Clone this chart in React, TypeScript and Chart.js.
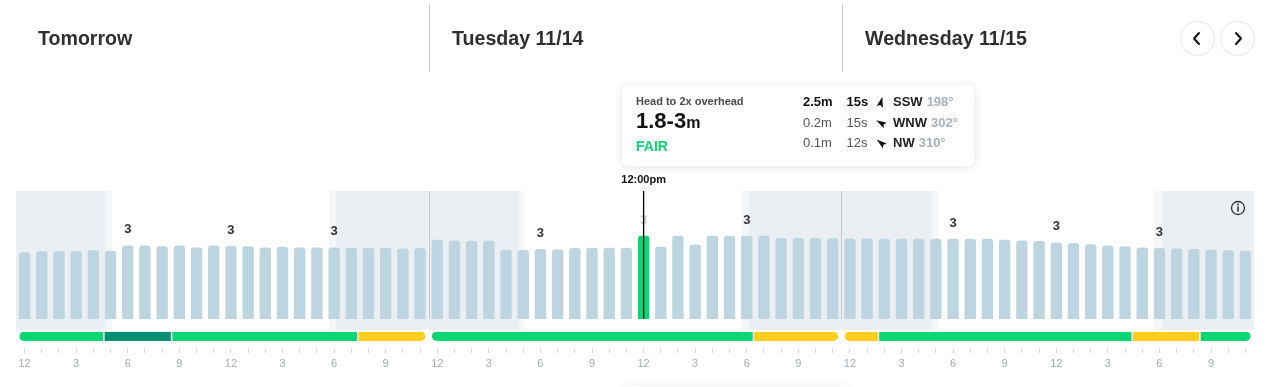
import React, { useEffect, useRef } from 'react';
import { Chart, registerables } from 'chart.js';

Chart.register(...registerables);

// ---------- data ----------
const DAY_TITLES = ['Tomorrow', 'Tuesday 11/14', 'Wednesday 11/15'];
const HOUR_TICKS = ['12', '', '', '3', '', '', '6', '', '', '9', '', '', '12', '', '', '3', '', '', '6', '', '', '9', '', ''];

// surf height (m), hourly
const WAVE_DAY1 = [2.07, 2.1, 2.1, 2.1, 2.13, 2.12, 2.28, 2.28, 2.26, 2.28, 2.22, 2.28, 2.27, 2.26, 2.22, 2.24, 2.22, 2.22, 2.22, 2.21, 2.21, 2.21, 2.19, 2.2];
const WAVE_DAY2 = [2.46, 2.44, 2.43, 2.43, 2.15, 2.14, 2.17, 2.16, 2.2, 2.21, 2.21, 2.21, 2.59, 2.24, 2.59, 2.31, 2.59, 2.59, 2.59, 2.59, 2.52, 2.52, 2.52, 2.51];
const WAVE_DAY3 = [2.5, 2.5, 2.49, 2.49, 2.49, 2.49, 2.49, 2.49, 2.49, 2.46, 2.44, 2.42, 2.38, 2.35, 2.32, 2.28, 2.26, 2.22, 2.2, 2.19, 2.17, 2.15, 2.13, 2.12];

const PEAK_LABEL_INDEX = [6, 12, 18, 30, 36, 42, 54, 60, 66];
const PEAK_LABEL_TEXT = ['3', '3', '3', '3', '3', '3', '3', '3', '3'];

const SELECTED_INDEX = 36;
const SELECTED_TIME = '12:00pm';

// twilight / daylight hours per day
const DAWN = [5.25, 5.25, 5.27];
const SUNRISE = [5.6, 5.6, 5.62];
const SUNSET = [18.2, 18.2, 18.2];
const DUSK = [18.6, 18.6, 18.63];

// condition segments
const COND_DAY = [0, 0, 0, 0, 1, 1, 2, 2, 2, 2];
const COND_FROM = [0, 5, 9, 20, 0, 19, 0, 2, 17, 21];
const COND_TO = [5, 9, 20, 24, 19, 24, 2, 17, 21, 24];
const COND_RATING = ['FAIR', 'FAIR_TO_GOOD', 'FAIR', 'POOR_TO_FAIR', 'FAIR', 'POOR_TO_FAIR', 'POOR_TO_FAIR', 'FAIR', 'POOR_TO_FAIR', 'FAIR'];

// tooltip
const TIP_DESC = 'Head to 2x overhead';
const TIP_RANGE = '1.8-3';
const TIP_UNIT = 'm';
const TIP_RATING = 'FAIR';
const SWELL_HEIGHT = ['2.5m', '0.2m', '0.1m'];
const SWELL_PERIOD = ['15s', '15s', '12s'];
const SWELL_DIR = ['SSW', 'WNW', 'NW'];
const SWELL_DEG = ['198°', '302°', '310°'];
const SWELL_ARROW = [14, 300, 308];

// ---------- styles ----------
const FONT = '"Liberation Sans", Arial, Helvetica, sans-serif';
const COND_COLORS: Record<string, string> = {
  FAIR: '#0bd674',
  FAIR_TO_GOOD: '#008f72',
  POOR_TO_FAIR: '#ffcd1e',
};
const BAR_COLOR = '#bcd5e0';
const SEL_COLOR = '#0bd674';
const SHADE_DARK = '#ebeef2';
const SHADE_LIGHT = '#f4f6f8';

const surfPlugin = {
  id: 'surfPlugin',
  beforeDatasetsDraw(chart: any) {
    const { ctx, chartArea, scales } = chart;
    const x = scales.x;
    const y = scales.y;
    const base = y.getPixelForValue(0);
    const px = (d: number, h: number) => x.getPixelForValue(d * 24 + h - 0.5);
    const shadeTop = chartArea.top;
    const shadeBottom = base + 11.3;
    ctx.save();
    for (let d = 0; d < 3; d++) {
      const s = px(d, 0);
      const e = px(d, 24);
      const rects: [number, number, string][] = [
        [s, px(d, DAWN[d]), SHADE_DARK],
        [px(d, DAWN[d]), px(d, SUNRISE[d]), SHADE_LIGHT],
        [px(d, SUNSET[d]), px(d, DUSK[d]), SHADE_LIGHT],
        [px(d, DUSK[d]), e, SHADE_DARK],
      ];
      rects.forEach(([a, b, c]) => {
        ctx.fillStyle = c;
        ctx.fillRect(a, shadeTop, b - a, shadeBottom - shadeTop);
      });
    }
    // day separators
    ctx.strokeStyle = '#c6c6c6';
    ctx.lineWidth = 1;
    for (let d = 1; d < 3; d++) {
      const xx = Math.round(px(d, 0)) + 0.5;
      ctx.beginPath();
      ctx.moveTo(xx, shadeTop);
      ctx.lineTo(xx, base);
      ctx.stroke();
    }
    // conditions bar
    const meta = chart.getDatasetMeta(0);
    const barW = meta.data[0].width;
    const cTop = base + 13;
    const cH = 9.3;
    for (let d = 0; d < 3; d++) {
      const x0 = x.getPixelForValue(d * 24) - barW / 2;
      const x1 = x.getPixelForValue(d * 24 + 23) + barW / 2;
      const hx = (h: number) => x0 + (h / 24) * (x1 - x0);
      ctx.save();
      ctx.beginPath();
      ctx.roundRect(x0, cTop, x1 - x0, cH, cH / 2);
      ctx.clip();
      for (let i = 0; i < COND_DAY.length; i++) {
        if (COND_DAY[i] !== d) continue;
        ctx.fillStyle = COND_COLORS[COND_RATING[i]];
        ctx.fillRect(hx(COND_FROM[i]), cTop, hx(COND_TO[i]) - hx(COND_FROM[i]), cH);
      }
      ctx.fillStyle = '#ffffff';
      for (let i = 0; i < COND_DAY.length; i++) {
        if (COND_DAY[i] !== d || COND_FROM[i] === 0) continue;
        ctx.fillRect(hx(COND_FROM[i]) - 0.75, cTop, 1.5, cH);
      }
      ctx.restore();
    }
    ctx.restore();
  },
  afterDatasetsDraw(chart: any) {
    const { ctx, chartArea, scales } = chart;
    const base = scales.y.getPixelForValue(0);
    const meta = chart.getDatasetMeta(0);
    ctx.save();
    ctx.textAlign = 'center';
    ctx.textBaseline = 'middle';
    ctx.font = `bold 13px ${FONT}`;
    PEAK_LABEL_INDEX.forEach((idx, k) => {
      const el = meta.data[idx];
      ctx.fillStyle = idx === SELECTED_INDEX ? '#c9c9c9' : '#333333';
      ctx.fillText(PEAK_LABEL_TEXT[k], el.x, el.y - 16);
    });
    // selected line
    const sel = meta.data[SELECTED_INDEX];
    ctx.strokeStyle = '#000000';
    ctx.lineWidth = 1.3;
    ctx.beginPath();
    ctx.moveTo(sel.x, chartArea.top);
    ctx.lineTo(sel.x, base);
    ctx.stroke();
    ctx.fillStyle = '#111111';
    ctx.font = `bold 11px ${FONT}`;
    ctx.fillText(SELECTED_TIME, sel.x, chartArea.top - 11);
    // info icon
    const ix = chartArea.right - 16;
    const iy = chartArea.top + 17;
    ctx.strokeStyle = '#333333';
    ctx.lineWidth = 1.3;
    ctx.beginPath();
    ctx.arc(ix, iy, 6.5, 0, Math.PI * 2);
    ctx.stroke();
    ctx.fillStyle = '#333333';
    ctx.fillRect(ix - 0.8, iy - 1.5, 1.6, 5);
    ctx.beginPath();
    ctx.arc(ix, iy - 3.6, 1, 0, Math.PI * 2);
    ctx.fill();
    ctx.restore();
  },
};

const ALL_WAVES = [...WAVE_DAY1, ...WAVE_DAY2, ...WAVE_DAY3];
const ALL_TICKS = [...HOUR_TICKS, ...HOUR_TICKS, ...HOUR_TICKS];

function Arrow({ angle }: { angle: number }) {
  return (
    <svg width="10" height="12" viewBox="-5 -6 10 12" style={{ display: 'block' }}>
      <polygon points="0,-5.5 3.2,5 0,3 -3.2,5" fill="#111" transform={`rotate(${angle})`} />
    </svg>
  );
}

function Chevron({ dir }: { dir: 'l' | 'r' }) {
  const pts = dir === 'l' ? '9,3 4,8.5 9,14' : '5,3 10,8.5 5,14';
  return (
    <svg width="14" height="17" viewBox="0 0 14 17">
      <polyline points={pts} fill="none" stroke="#111" strokeWidth="2" strokeLinecap="round" strokeLinejoin="round" />
    </svg>
  );
}

export default function App() {
  const ref = useRef<HTMLCanvasElement>(null);
  useEffect(() => {
    if (!ref.current) return;
    const chart = new Chart(ref.current, {
      type: 'bar',
      data: {
        labels: ALL_TICKS,
        datasets: [
          {
            data: ALL_WAVES,
            backgroundColor: ALL_WAVES.map((_, i) => (i === SELECTED_INDEX ? SEL_COLOR : BAR_COLOR)),
            borderRadius: { topLeft: 3, topRight: 3, bottomLeft: 0, bottomRight: 0 },
            borderSkipped: 'start',
            barThickness: 10.7,
          },
        ],
      },
      options: {
        responsive: false,
        animation: false,
        events: [],
        layout: { padding: { left: 16, right: 23, top: 191, bottom: 12.8 } },
        plugins: { legend: { display: false }, tooltip: { enabled: false } },
        scales: {
          x: {
            offset: true,
            border: { display: false },
            grid: { drawOnChartArea: false, drawTicks: true, tickLength: 4, color: '#d3d7dd', offset: false },
            ticks: {
              autoSkip: false,
              maxRotation: 0,
              minRotation: 0,
              padding: 4,
              color: '#a2abb8',
              font: { size: 11, family: FONT },
              callback: (_v: any, i: number) => ALL_TICKS[i],
            },
          },
          y: { display: false, min: -0.95, max: 4 },
        },
      },
      plugins: [surfPlugin],
    } as any);
    return () => chart.destroy();
  }, []);

  const titleLefts = [38, 452, 865];
  const sepLefts = [429, 842];
  const rowCy = [17.3, 38.3, 58.3];

  return (
    <div
      style={{
        position: 'absolute',
        left: 0,
        top: 0,
        width: 1277,
        height: 387,
        overflow: 'hidden',
        background: '#ffffff',
        fontFamily: FONT,
        color: '#333',
      }}
    >
      <canvas ref={ref} width={1277} height={387} style={{ position: 'absolute', left: 0, top: 0, width: 1277, height: 387 }} />

      {/* header */}
      {DAY_TITLES.map((t, i) => (
        <div
          key={t}
          style={{
            position: 'absolute',
            left: titleLefts[i],
            top: 26,
            height: 24,
            lineHeight: '24px',
            fontSize: 19.6,
            fontWeight: 700,
            color: '#2f2f2f',
            whiteSpace: 'nowrap',
          }}
        >
          {t}
        </div>
      ))}
      {sepLefts.map((l) => (
        <div key={l} style={{ position: 'absolute', left: l, top: 4, width: 1, height: 68, background: '#c8c8c8' }} />
      ))}
      {[1179.5, 1220].map((l, i) => (
        <div
          key={l}
          style={{
            position: 'absolute',
            left: l,
            top: 21,
            width: 35,
            height: 35,
            boxSizing: 'border-box',
            border: '1px solid #e3e5ea',
            borderRadius: '50%',
            display: 'flex',
            alignItems: 'center',
            justifyContent: 'center',
          }}
        >
          <Chevron dir={i === 0 ? 'l' : 'r'} />
        </div>
      ))}

      {/* faint card shadow at bottom */}
      <div
        style={{
          position: 'absolute',
          left: 624,
          top: 386,
          width: 226,
          height: 30,
          borderRadius: 6,
          background: '#fff',
          boxShadow: '0 0 8px rgba(0,0,0,0.07)',
        }}
      />

      {/* tooltip */}
      <div
        style={{
          position: 'absolute',
          left: 622,
          top: 85,
          width: 352,
          height: 81,
          background: '#fff',
          borderRadius: 6,
          boxShadow: '0 1px 10px rgba(0,0,0,0.12)',
        }}
      >
        <div style={{ position: 'absolute', left: 14, top: 9, lineHeight: '14px', fontSize: 11, fontWeight: 700, color: '#4a4a4a', whiteSpace: 'nowrap' }}>
          {TIP_DESC}
        </div>
        <div style={{ position: 'absolute', left: 14, top: 23, lineHeight: '26px', whiteSpace: 'nowrap', color: '#111' }}>
          <span style={{ fontSize: 22, fontWeight: 700 }}>{TIP_RANGE}</span>
          <span style={{ fontSize: 16, fontWeight: 700 }}>{TIP_UNIT}</span>
        </div>
        <div style={{ position: 'absolute', left: 14, top: 52, lineHeight: '18px', fontSize: 14, fontWeight: 700, color: '#0bd674' }}>
          {TIP_RATING}
        </div>
        {SWELL_HEIGHT.map((h, r) => {
          const bold = r === 0;
          const top = rowCy[r] - 8;
          return (
            <React.Fragment key={r}>
              <div style={{ position: 'absolute', left: 181, top, lineHeight: '16px', fontSize: 13, fontWeight: bold ? 700 : 400, color: bold ? '#111' : '#555' }}>{h}</div>
              <div style={{ position: 'absolute', left: 224.5, top, lineHeight: '16px', fontSize: 13, fontWeight: bold ? 700 : 400, color: bold ? '#111' : '#555' }}>{SWELL_PERIOD[r]}</div>
              <div style={{ position: 'absolute', left: 254, top: rowCy[r] - 6 }}>
                <Arrow angle={SWELL_ARROW[r]} />
              </div>
              <div style={{ position: 'absolute', left: 271, top, lineHeight: '16px', fontSize: 13, whiteSpace: 'nowrap' }}>
                <span style={{ fontWeight: 700, color: '#222' }}>{SWELL_DIR[r]}</span>
                <span style={{ fontWeight: 700, color: '#a8b0bb', marginLeft: 4 }}>{SWELL_DEG[r]}</span>
              </div>
            </React.Fragment>
          );
        })}
      </div>
    </div>
  );
}
